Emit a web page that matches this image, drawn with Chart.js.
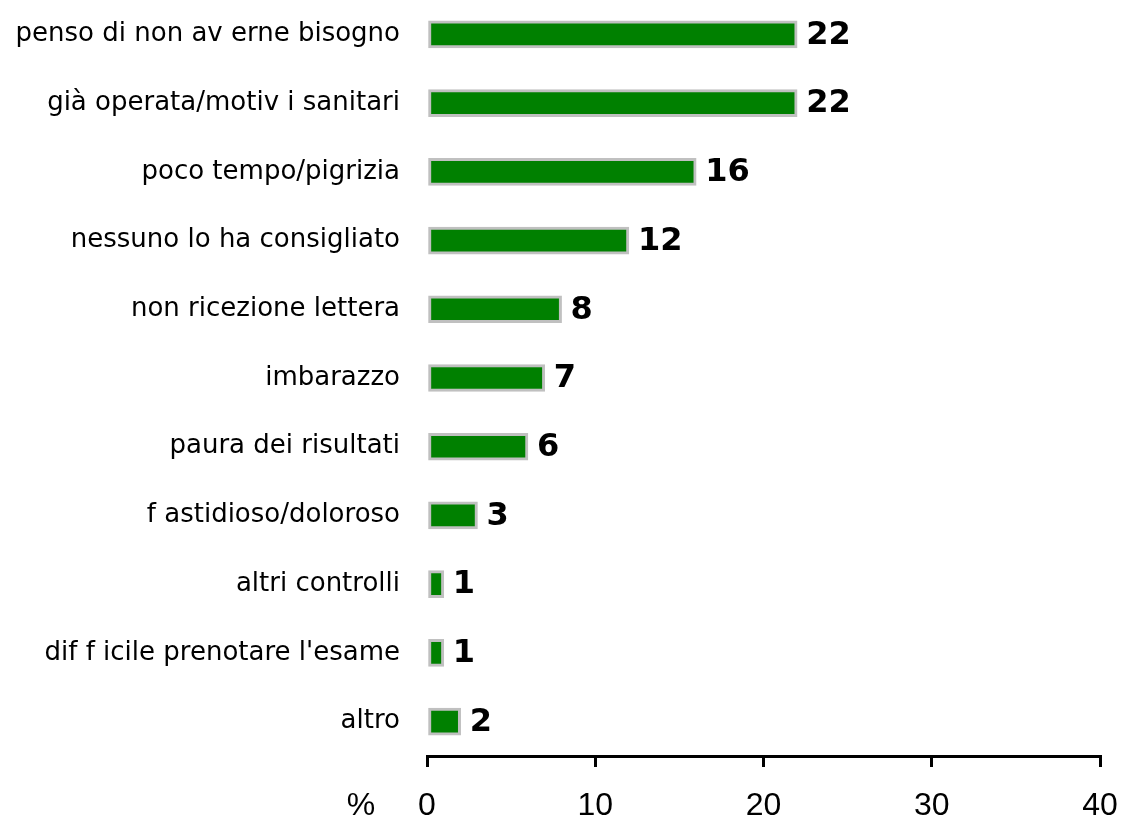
<!DOCTYPE html>
<html>
<head>
<meta charset="utf-8">
<script src="https://cdn.jsdelivr.net/npm/chart.js@4/dist/chart.umd.min.js"></script>
<style>
  body { margin: 0; background: #fff; }
  canvas { display: block; }
</style>
</head>
<body>
<canvas id="resultChart" width="1121" height="821"></canvas>
<script>
// motivi (etichette come appaiono nel grafico)
const categories = [
    "penso di non av erne bisogno",
    "già operata/motiv i sanitari",
    "poco tempo/pigrizia",
    "nessuno lo ha consigliato",
    "non ricezione lettera",
    "imbarazzo",
    "paura dei risultati",
    "f astidioso/doloroso",
    "altri controlli",
    "dif f icile prenotare l'esame",
    "altro"
];
const percentages = [22, 22, 16, 12, 8, 7, 6, 3, 1, 1, 2];
const xTicks = [0, 10, 20, 30, 40];
const axisUnit = "%";

// valori in grassetto a destra delle barre
const valueLabels = {
    id: 'valueLabels',
    afterDatasetsDraw(chart) {
        const ctx = chart.ctx;
        const meta = chart.getDatasetMeta(0);
        ctx.save();
        ctx.font = 'bold 32px "DejaVu Sans"';
        ctx.fillStyle = '#000';
        ctx.textAlign = 'left';
        ctx.textBaseline = 'middle';
        meta.data.forEach((bar, i) => {
            ctx.fillText(String(percentages[i]), bar.x + 9, bar.y + 1);
        });
        ctx.restore();
    }
};

// simbolo "%" a sinistra dello zero, sulla stessa riga dei tick
const unitLabel = {
    id: 'unitLabel',
    afterDraw(chart) {
        const ctx = chart.ctx;
        const x = chart.scales.x;
        ctx.save();
        ctx.font = '32px "Liberation Sans"';
        ctx.fillStyle = '#000';
        ctx.textAlign = 'center';
        ctx.textBaseline = 'middle';
        ctx.fillText(axisUnit, x.left - 66, x.top + 11 + 20 + 19);
        ctx.restore();
    }
};

const ctx = document.getElementById('resultChart').getContext('2d');
new Chart(ctx, {
    type: 'bar',
    data: {
        labels: categories,
        datasets: [{
            data: percentages,
            backgroundColor: '#008000',
            borderColor: '#c0c0c0',
            borderWidth: 3,
            borderSkipped: false,
            barThickness: 27
        }]
    },
    options: {
        indexAxis: 'y',
        responsive: false,
        animation: false,
        devicePixelRatio: 1,
        layout: { padding: { top: 0, right: 21, bottom: 0, left: 0 } },
        scales: {
            x: {
                min: 0,
                max: 40,
                afterBuildTicks: (scale) => {
                    scale.ticks = xTicks.map(v => ({ value: v }));
                },
                afterFit: (scale) => {
                    scale.height = 65;
                    scale.paddingLeft = 0;
                    scale.paddingRight = 0;
                },
                border: { display: true, color: '#000', width: 3 },
                grid: {
                    drawOnChartArea: false,
                    drawTicks: true,
                    tickLength: 11,
                    color: '#000',
                    lineWidth: 3
                },
                ticks: {
                    color: '#000',
                    padding: 20,
                    font: { family: 'Liberation Sans', size: 32 },
                    maxRotation: 0
                }
            },
            y: {
                afterFit: (scale) => {
                    scale.width = 427;
                    scale.paddingTop = 0;
                    scale.paddingBottom = 0;
                },
                border: { display: false },
                grid: { display: false, drawTicks: false },
                ticks: {
                    color: '#000',
                    padding: 27,
                    font: { family: 'DejaVu Sans', size: 26 }
                }
            }
        },
        plugins: {
            legend: { display: false },
            tooltip: { enabled: false }
        }
    },
    plugins: [valueLabels, unitLabel]
});
</script>
</body>
</html>
